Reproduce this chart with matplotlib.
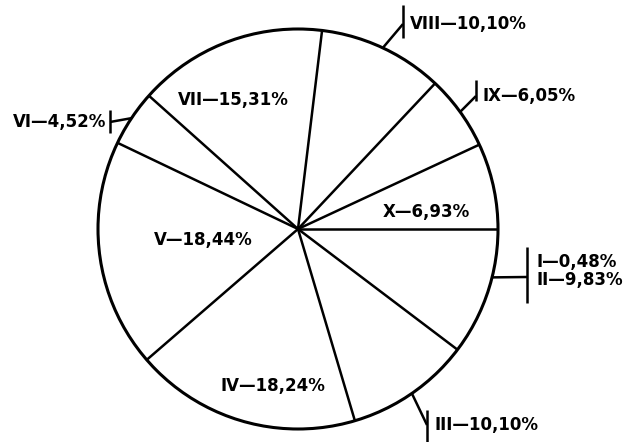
import numpy as np
import matplotlib
matplotlib.use("Agg")
import matplotlib.pyplot as plt
from matplotlib.patches import Circle

# share of each month (Roman numerals), percent
months = ["I", "II", "III", "IV", "V", "VI", "VII", "VIII", "IX", "X"]
shares = [0.48, 9.83, 10.10, 18.24, 18.44, 4.52, 15.31, 10.10, 6.05, 6.93]

W, H = 632, 442
CX, CY, R = 298, H - 229, 200
START = 0.0
LW = 1.8
FONT = dict(fontsize=12, fontweight="bold", family="DejaVu Sans")


def label(i):
    return f"{months[i]}\u2014{shares[i]:.2f}%".replace(".", ",")


def img(x, y):
    # picture coords (y down) -> axes coords (y up)
    return x, H - y


fig = plt.figure(figsize=(W / 100, H / 100), dpi=100)
ax = fig.add_axes([0, 0, 1, 1])
ax.pie(shares, startangle=START, counterclock=False, center=(CX, CY), radius=R,
       wedgeprops=dict(facecolor="white", edgecolor="none", linewidth=0))
ax.set_xlim(0, W)
ax.set_ylim(0, H)
ax.set_aspect("equal")
ax.axis("off")

cum = np.cumsum(shares)
theta_a = START - 3.6 * (cum - np.asarray(shares))
theta_b = START - 3.6 * cum
mid = (theta_a + theta_b) / 2

# spokes: the I/II boundary is not drawn in the original (slice I too thin)
for k, t in enumerate(theta_a):
    if k == 1:
        continue
    a = np.deg2rad(t)
    ax.plot([CX, CX + R * np.cos(a)], [CY, CY + R * np.sin(a)],
            color="black", lw=LW, solid_capstyle="butt")
ax.add_patch(Circle((CX, CY), R, facecolor="none", edgecolor="black", lw=2.2))

# labels inside the wedges: index -> text centre (picture coords)
inside = {6: (233, 100), 9: (426, 212), 4: (203, 240), 3: (273, 386)}
for i, (x, y) in inside.items():
    ax.text(*img(x, y), label(i), ha="center", va="center", **FONT)

# labels outside with leader + bracket
# (indices, leader angle, bracket x, bracket y top/bottom, text x, text ys, side)
outside = [
    ([7], None, 403, (5, 38), 410, [24], "left"),
    ([8], None, 476, (80, 101), 482, [96], "left"),
    ([5], None, 110, (110, 133), 106, [122], "right"),
    ([0, 1], -14.0, 527, (247, 303), 536, [262, 280], "left"),
    ([2], None, 427, (410, 445), 434, [425], "left"),
]
for idx, ang, bx, (y0, y1), tx, tys, side in outside:
    a = np.deg2rad(mid[idx[0]] if ang is None else ang)
    sx, sy = CX + R * np.cos(a), CY + R * np.sin(a)
    by = (tys[0] + tys[-1]) / 2
    if len(idx) > 1:
        by = 277
    ax.plot([sx, bx], [sy, H - by], color="black", lw=LW, solid_capstyle="butt")
    ax.plot([bx, bx], [H - y0, H - y1], color="black", lw=LW, solid_capstyle="butt")
    for i, ty in zip(idx, tys):
        ax.text(*img(tx, ty), label(i), ha=side, va="center", **FONT)

fig.savefig("out.png", dpi=100, facecolor="white")
